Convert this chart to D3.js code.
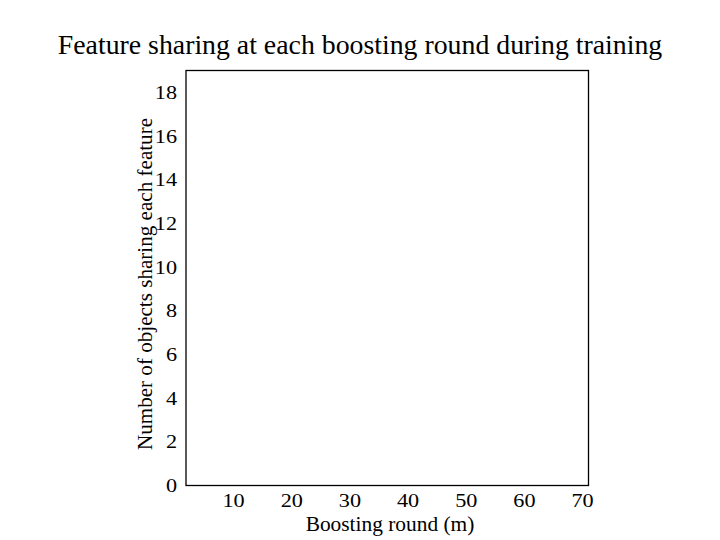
<!DOCTYPE html>
<html><head><meta charset="utf-8">
<script src="https://cdn.jsdelivr.net/npm/d3@7"></script>
<style>body{margin:0;background:#fff}svg{display:block}text{font-family:"Liberation Serif","Times New Roman",serif;fill:#000}</style>
</head><body>
<svg id="c" width="720" height="540"></svg>
<script>
const title = "Feature sharing at each boosting round during training";
const xLabel = "Boosting round (m)";
const yLabel = "Number of objects sharing each feature";
const xTicks = [10, 20, 30, 40, 50, 60, 70];
const yTicks = [0, 2, 4, 6, 8, 10, 12, 14, 16, 18];
const xDomain = [1.9, 71.1];
const yDomain = [0, 19];
const sharing = []; // no data plotted in the reference

const svg = d3.select("#c");
const L = 186, R = 588.5, T = 70.5, B = 485.5;
const x = d3.scaleLinear().domain(xDomain).range([L, R]);
const y = d3.scaleLinear().domain(yDomain).range([B, T]);
const sx = 1.17;

svg.append("rect").attr("x", L).attr("y", T).attr("width", R - L).attr("height", B - T)
  .attr("fill", "none").attr("stroke", "#000").attr("stroke-width", 1.3);

const xa = svg.append("g").attr("transform", `translate(0,${B})`)
  .call(d3.axisBottom(x).tickValues(xTicks).tickSize(0).tickPadding(8).tickFormat(d3.format("d")));
xa.select(".domain").remove();
xa.selectAll("text").attr("font-size", 19).attr("transform", `scale(${sx},1)`)
  .style("font-family", "Liberation Serif");

const ya = svg.append("g").attr("transform", `translate(${L},0)`)
  .call(d3.axisLeft(y).tickValues(yTicks).tickSize(0).tickFormat(d3.format("d")));
ya.select(".domain").remove();
ya.selectAll("text").attr("font-size", 19).attr("x", -9 / sx).attr("transform", `scale(${sx},1)`)
  .style("font-family", "Liberation Serif");

svg.append("g").selectAll("circle").data(sharing).join("circle")
  .attr("cx", d => x(d[0])).attr("cy", d => y(d[1])).attr("r", 2);

svg.append("text").attr("x", 360).attr("y", 54).attr("text-anchor", "middle")
  .attr("font-size", 27.8).text(title);
svg.append("text").attr("x", 390).attr("y", 531).attr("text-anchor", "middle")
  .attr("font-size", 21.4).text(xLabel);
svg.append("text").attr("transform", "translate(152,284) rotate(-90)").attr("text-anchor", "middle")
  .attr("font-size", 21.1).text(yLabel);
</script>
</body></html>
